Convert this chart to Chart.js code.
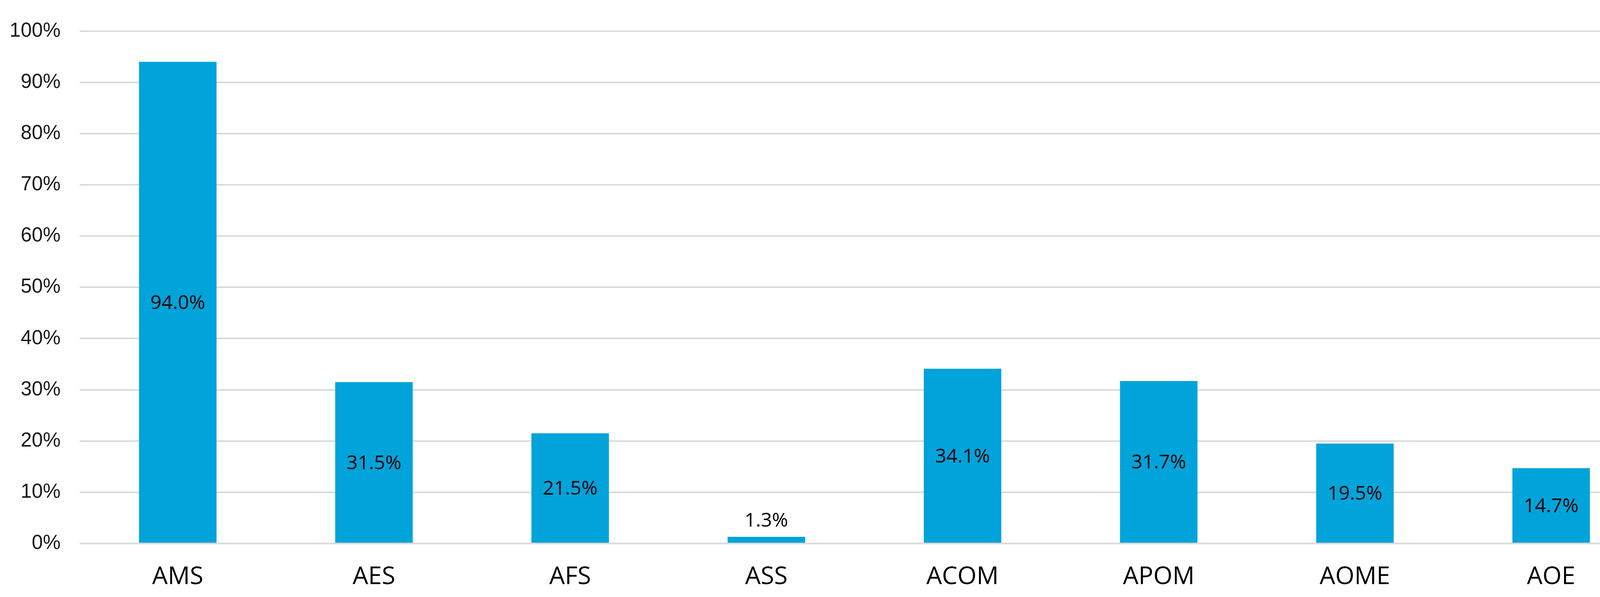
<!DOCTYPE html>
<html>
<head>
<meta charset="utf-8">
<script src="https://cdn.jsdelivr.net/npm/chart.js@4.4.1/dist/chart.umd.min.js"></script>
<style>
html,body{margin:0;padding:0;background:#fff;overflow:hidden;width:4257px;height:1528px;}
#wrap{width:4257px;height:1528px;position:relative;}
canvas{display:block;}
</style>
</head>
<body>
<div id="wrap"><canvas id="c" width="4257" height="1528" style="width:4257px;height:1528px"></canvas></div>
<script>
const categories = ["AMS","AES","AFS","ASS","ACOM","APOM","AOME","AOE"];
const values = [94.0, 31.5, 21.5, 1.3, 34.1, 31.7, 19.5, 14.7];
const yTicks = [0,10,20,30,40,50,60,70,80,90,100];

const labelPlugin = {
  id: 'barLabels',
  afterDatasetsDraw(chart) {
    const ctx = chart.ctx;
    const meta = chart.getDatasetMeta(0);
    ctx.save();
    ctx.font = '50px "Open Sans"';
    ctx.fillStyle = '#000';
    ctx.textAlign = 'center';
    ctx.textBaseline = 'middle';
    meta.data.forEach((bar, i) => {
      const v = values[i];
      const txt = v.toFixed(1) + '%';
      let y;
      if (v < 5) {
        y = bar.y - 40;
      } else {
        y = (bar.y + bar.base) / 2 + 3;
      }
      ctx.fillText(txt, bar.x, y);
    });
    ctx.restore();
  }
};

new Chart(document.getElementById('c'), {
  type: 'bar',
  data: {
    labels: categories,
    datasets: [{
      data: values,
      backgroundColor: '#00A3DA',
      borderWidth: 0,
      categoryPercentage: 1.0,
      barPercentage: 0.395
    }]
  },
  options: {
    responsive: false,
    animation: false,
    devicePixelRatio: 1,
    layout: { padding: { left: 0, right: 35, top: 41, bottom: 0 } },
    plugins: { legend: { display: false }, tooltip: { enabled: false } },
    scales: {
      x: {
        grid: { display: false, drawTicks: false },
        border: { display: false },
        ticks: {
          font: { family: '"Open Sans"', size: 63 },
          color: '#000',
          padding: 48
        },
        afterFit(scale) { scale.height = 137; }
      },
      y: {
        min: 0, max: 100,
        afterBuildTicks(scale) { scale.ticks = yTicks.map(v => ({ value: v })); },
        grid: { color: '#dadada', lineWidth: 4, drawTicks: false },
        border: { display: false },
        ticks: {
          font: { family: '"Liberation Sans"', size: 51 },
          color: '#1a1a1a',
          padding: 49,
          callback: v => v + '%'
        },
        afterFit(scale) { scale.width = 204; }
      }
    }
  },
  plugins: [labelPlugin]
});
</script>
</body>
</html>
